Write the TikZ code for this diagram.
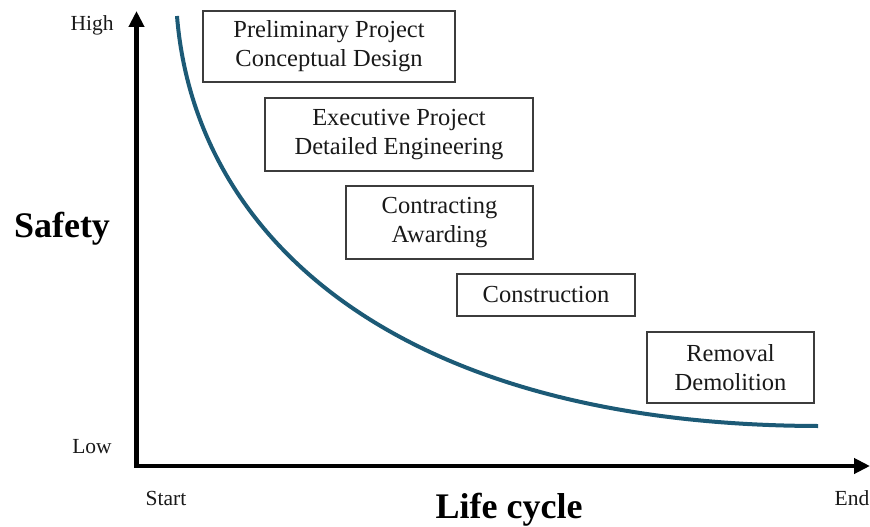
\documentclass[tikz,border=0pt]{standalone}
\usepackage{fontspec}
\setmainfont{Liberation Serif}
\usetikzlibrary{arrows.meta}
\definecolor{curveblue}{RGB}{28,90,118}
\definecolor{boxline}{RGB}{60,60,60}
\definecolor{ink}{RGB}{25,25,25}
\begin{document}
\begin{tikzpicture}[x=1pt,y=-1pt,
  phase/.style={draw=boxline,line width=1.3pt,inner sep=0pt,align=center,
    text=ink,font=\fontsize{24.5}{29}\selectfont},
  tick/.style={anchor=base,text=ink,font=\fontsize{21.5}{24}\selectfont},
  axistitle/.style={anchor=base,text=black,font=\fontsize{36}{40}\selectfont\bfseries},
  axis/.style={line width=4.5pt,black,
    {Triangle[length=16pt,width=15pt]}-{Triangle[length=16pt,width=15pt]}}]
\useasboundingbox (0,0) rectangle (870,527);

% axes
\coordinate (ytop) at (136.5,11);
\coordinate (origin) at (136.5,466);
\coordinate (xend) at (870,466);
\draw[axis,line join=miter] (ytop) -- (origin) -- (xend);

% axis labels
\node[tick] (high) at (92,31) {High};
\node[tick] (low) at (92,453) {Low};
\node[tick] (start) at (166,505) {Start};
\node[tick] (end) at (852,505) {End};
\node[axistitle] (safety) at (62,237) {Safety};
\node[axistitle] (lifecycle) at (509,518) {Life cycle};

% safety curve over the life cycle
\coordinate (cstart) at (177,16);
\coordinate (cend) at (818,426);
\draw[curveblue,line width=4pt] (cstart) .. controls (195,240) and (400,425) .. (cend);

% project phases
\node[phase,minimum width=252pt,minimum height=71pt] (p1) at (329,46.5)
  {Preliminary Project\\Conceptual Design};
\node[phase,minimum width=268pt,minimum height=73pt] (p2) at (399,134.5)
  {Executive Project\\Detailed Engineering};
\node[phase,minimum width=187pt,minimum height=73pt] (p3) at (439.5,222.5)
  {Contracting\\Awarding};
\node[phase,minimum width=178pt,minimum height=42pt] (p4) at (546,295)
  {Construction};
\node[phase,minimum width=167pt,minimum height=71pt] (p5) at (730.5,367.5)
  {Removal\\Demolition};
\end{tikzpicture}
\end{document}
